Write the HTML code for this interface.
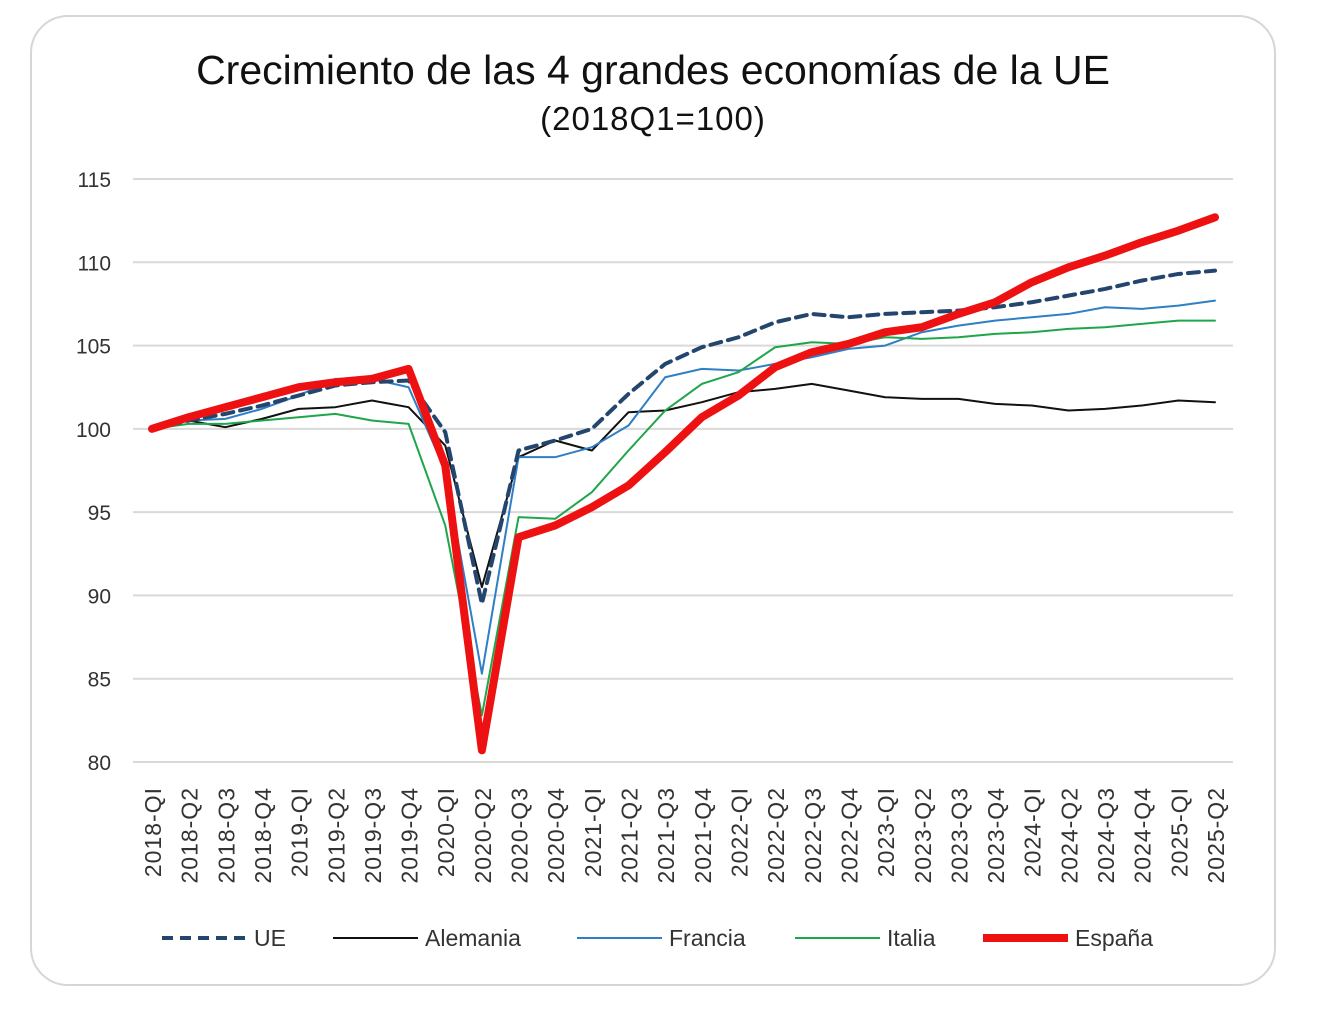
<!DOCTYPE html>
<html><head><meta charset="utf-8"><style>
body{margin:0;background:#fff;width:1320px;height:1010px;overflow:hidden;font-family:"Liberation Sans",sans-serif}
#card{position:absolute;left:30px;top:15px;width:1246px;height:971px;border:2px solid #d4d6da;border-radius:38px;box-sizing:border-box}
</style></head><body>
<div id="card"></div>
<svg id="chart" width="1320" height="1010" style="position:absolute;left:0;top:0">
<text x="653" y="84" text-anchor="middle" font-size="41" fill="#111">Crecimiento de las 4 grandes economías de la UE</text>
<text x="653" y="130" text-anchor="middle" font-size="33" letter-spacing="1" fill="#111">(2018Q1=100)</text>
<g id="grid"></g><g id="series"></g><g id="xl"></g><g id="legend"></g>
</svg>
<script>
const categories=[];
for(let y=2018;y<=2025;y++)for(let q=1;q<=4;q++){if(y===2025&&q>2)break;categories.push(y+'-Q'+(q===1?'I':q));}
const yTicks=[80,85,90,95,100,105,110,115];
const ue=[100,100.5,100.9,101.4,102.0,102.6,102.8,102.9,99.8,89.5,98.7,99.3,100.0,102.1,103.9,104.9,105.5,106.4,106.9,106.7,106.9,107.0,107.1,107.3,107.6,108.0,108.4,108.9,109.3,109.5];
const alemania=[100,100.5,100.1,100.6,101.2,101.3,101.7,101.3,99.0,90.5,98.3,99.3,98.7,101.0,101.1,101.6,102.2,102.4,102.7,102.3,101.9,101.8,101.8,101.5,101.4,101.1,101.2,101.4,101.7,101.6];
const francia=[100,100.5,100.6,101.2,102.0,103.0,103.0,102.5,97.5,85.3,98.3,98.3,98.9,100.2,103.1,103.6,103.5,103.9,104.3,104.8,105.0,105.8,106.2,106.5,106.7,106.9,107.3,107.2,107.4,107.7];
const italia=[100,100.3,100.3,100.5,100.7,100.9,100.5,100.3,94.2,82.8,94.7,94.6,96.2,98.7,101.1,102.7,103.4,104.9,105.2,105.1,105.5,105.4,105.5,105.7,105.8,106.0,106.1,106.3,106.5,106.5];
const espana=[100,100.7,101.3,101.9,102.5,102.8,103.0,103.6,97.8,80.7,93.5,94.2,95.3,96.6,98.6,100.7,102.0,103.7,104.6,105.1,105.8,106.1,106.9,107.6,108.8,109.7,110.4,111.2,111.9,112.7];
const NS='http://www.w3.org/2000/svg';
const x0=152,x1=1215,yTop=179,yBot=762;
const X=i=>x0+(x1-x0)*i/(categories.length-1);
const Y=v=>yBot-(v-80)*(yBot-yTop)/35;
function mk(t,a,p){const e=document.createElementNS(NS,t);for(const k in a)e.setAttribute(k,a[k]);p.appendChild(e);return e;}
const grid=document.getElementById('grid');
yTicks.forEach(v=>{
 const l=mk('line',{x1:133,x2:1233,y1:Y(v),y2:Y(v),stroke:'#d9d9d9','stroke-width':2},grid);
 
 
 const t=mk('text',{x:111,y:Y(v)+8,'text-anchor':'end','font-size':21,fill:'#333'},grid);t.textContent=v;
 
 
});
const xl=document.getElementById('xl');
categories.forEach((c,i)=>{
 const t=mk('text',{transform:`translate(${X(i)+9},787) rotate(-90)`,'text-anchor':'end','font-size':23,'letter-spacing':1,fill:'#333'},xl);t.textContent=c;
 
 
});
const ser=document.getElementById('series');
const defs=[
 {n:'alemania',d:alemania,c:'#111',w:2,da:null,l:'Alemania'},
 {n:'francia',d:francia,c:'#2e7fc4',w:2,da:null,l:'Francia'},
 {n:'italia',d:italia,c:'#1fa64a',w:2,da:null,l:'Italia'},
 {n:'ue',d:ue,c:'#24466e',w:4,da:'11 7',l:'UE'},
 {n:'espana',d:espana,c:'#ee1111',w:8,da:null,l:'España'}];
defs.forEach(s=>{
 const a={points:s.d.map((v,i)=>X(i)+','+Y(v)).join(' '),fill:'none',stroke:s.c,'stroke-width':s.w,'stroke-linejoin':'round','stroke-linecap':'round'};
 if(s.da)a['stroke-dasharray']=s.da;
 const p=mk('polyline',a,ser);
 
 
});
const lg=document.getElementById('legend');
const order=[['ue',162,'UE'],['alemania',333,'Alemania'],['francia',577,'Francia'],['italia',795,'Italia'],['espana',983,'España']];
order.forEach(o=>{
 const s=defs.find(d=>d.n===o[0]);
 const g=mk('g',{},lg);
 
 
 const a={x1:o[1],x2:o[1]+85,y1:938,y2:938,stroke:s.c,'stroke-width':s.w};
 if(s.da)a['stroke-dasharray']=s.da;
 mk('line',a,g);
 const t=mk('text',{x:o[1]+92,y:946,'font-size':23,fill:'#333'},g);t.textContent=o[2];
});
</script>
</body></html>
